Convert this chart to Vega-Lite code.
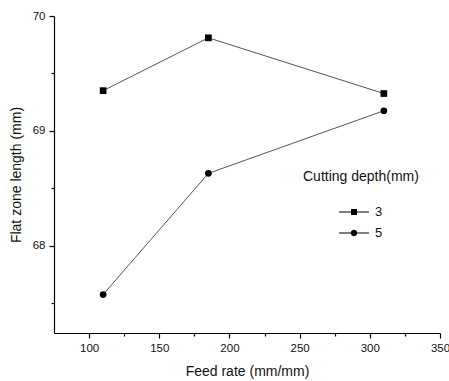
{
  "$schema": "https://vega.github.io/schema/vega-lite/v6.json",
  "width": 386,
  "height": 317,
  "autosize": "none",
  "padding": {"left": 54, "top": 16, "right": 9, "bottom": 48},
  "background": "white",
  "config": {
    "view": {"stroke": null},
    "font": "Liberation Sans",
    "axis": {"grid": false, "domainColor": "black", "tickColor": "black", "labelColor": "#111", "titleColor": "#111", "labelFont": "Liberation Sans", "titleFont": "Liberation Sans", "labelFontSize": 11.5, "titleFontSize": 14, "titleFontWeight": "normal", "domainWidth": 1.2, "tickWidth": 1.2}
  },
  "data": {"values": [
    {"feed": 110, "len": 69.35, "depth": "3"},
    {"feed": 185, "len": 69.81, "depth": "3"},
    {"feed": 310, "len": 69.325, "depth": "3"},
    {"feed": 110, "len": 67.575, "depth": "5"},
    {"feed": 185, "len": 68.63, "depth": "5"},
    {"feed": 310, "len": 69.175, "depth": "5"}
  ]},
  "encoding": {
    "x": {"field": "feed", "type": "quantitative", "title": "Feed rate (mm/mm)",
      "scale": {"domain": [75, 350], "nice": false, "zero": false},
      "axis": {"values": [100,125,150,175,200,225,250,275,300,325,350],
        "labelExpr": "datum.value % 50 == 0 ? datum.label : ''",
        "tickSize": {"condition": {"test": "datum.value % 50 != 0", "value": 3}, "value": 5},
        "labelPadding": 4, "titlePadding": 11, "labelFlush": false}},
    "y": {"field": "len", "type": "quantitative", "title": "Flat zone length (mm)",
      "scale": {"domain": [67.24, 70], "nice": false, "zero": false},
      "axis": {"values": [67.5, 68, 68.5, 69, 69.5, 70],
        "labelExpr": "datum.value % 1 == 0 ? format(datum.value, 'd') : ''",
        "tickSize": {"condition": {"test": "datum.value % 1 != 0", "value": 3}, "value": 5},
        "labelPadding": 4, "titlePadding": 9, "labelFlush": false}}
  },
  "layer": [
    {"mark": {"type": "line", "color": "#555", "strokeWidth": 1},
     "encoding": {"detail": {"field": "depth"}}},
    {"mark": {"type": "point", "filled": true, "color": "black", "opacity": 1, "size": 45},
     "encoding": {
       "shape": {"field": "depth", "type": "nominal",
         "scale": {"domain": ["3", "5"], "range": ["square", "circle"]},
         "legend": null}
     }},
    {"transform": [{"filter": "false"}],
     "mark": {"type": "point", "filled": true, "color": "black", "opacity": 1},
     "encoding": {
       "shape": {"field": "depth", "type": "nominal",
         "scale": {"domain": ["3", "5"], "range": [
           "M4.83,-0.075H9.83V0.075H4.83Z M6.83,-0.5H7.83V0.5H6.83Z",
           "M4.83,-0.075H9.83V0.075H4.83Z M6.78,0A0.55,0.55 0 1,1 7.88,0A0.55,0.55 0 1,1 6.78,0Z"]},
         "legend": {
           "title": "Cutting depth(mm)", "orient": "none", "legendX": 249, "legendY": 154,
           "titleFontSize": 14, "titleFontWeight": "normal", "titleColor": "#111", "titlePadding": 21,
           "labelFontSize": 13, "labelColor": "#111", "rowPadding": 7, "symbolSize": 144,
           "symbolFillColor": "black",
           "labelOffset": 58
         }}
     }}
  ],
  "resolve": {"scale": {"shape": "independent"}}
}
